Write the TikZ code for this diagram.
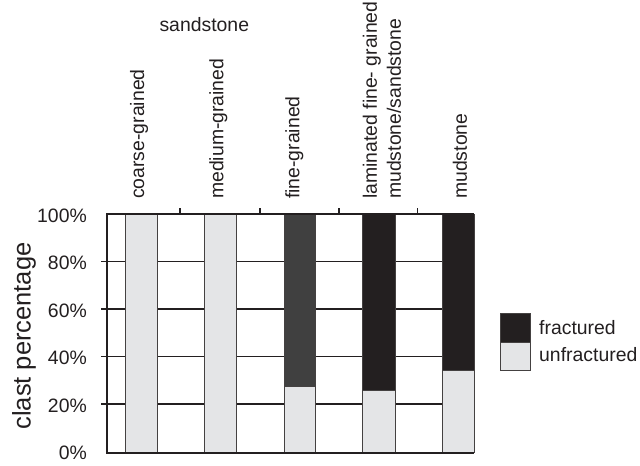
\documentclass[tikz,border=0pt]{standalone}
\usepackage{fontspec}
\setmainfont{Liberation Sans}
\definecolor{lightbar}{HTML}{E4E5E7}
\definecolor{darkbar}{HTML}{404040}
\definecolor{blackbar}{HTML}{231F20}
\definecolor{axisc}{HTML}{231F20}
\begin{document}
\begin{tikzpicture}[x=1bp,y=-1bp,
  lbl/.style={font=\fontsize{19.4bp}{24bp}\selectfont, text=axisc, inner sep=0pt},
  collbl/.style={lbl, rotate=90, anchor=west, align=left},
  ticklbl/.style={lbl, anchor=east},
  grid/.style={line width=1.2bp, draw=axisc},
  frame/.style={line width=1.6bp, draw=axisc},
  barbox/.style={line width=0.9bp, draw=axisc!85}]
\useasboundingbox (0,0) rectangle (640,466);
% grid lines with left ticks
\foreach \yy in {261.7,309,356.7,404}
  \draw[grid] (101,\yy) -- (474,\yy);
% bars: unfractured (light) and fractured parts
\draw[barbox, fill=lightbar] (125.7,214.3) rectangle (157.7,452.7);
\draw[barbox, fill=lightbar] (204.3,214.3) rectangle (236.7,452.7);
\draw[barbox, fill=darkbar] (284,214.3) rectangle (315.7,386.7);
\draw[barbox, fill=lightbar] (284,386.7) rectangle (315.7,452.7);
\draw[barbox, fill=blackbar] (362.3,214.3) rectangle (395.7,390.7);
\draw[barbox, fill=lightbar] (362.3,390.7) rectangle (395.7,452.7);
\draw[barbox, fill=blackbar] (442.3,214.3) rectangle (474,370.3);
\draw[barbox, fill=lightbar] (442.3,370.3) rectangle (474,452.7);
% frame
\draw[frame] (474,214.3) -- (106.7,214.3) -- (106.7,452.7) -- (474,452.7);
% top ticks
\foreach \xx in {180,260,339,417.3}
  \draw[grid] (\xx,214.3) -- (\xx,208);
% y tick labels
\node[ticklbl] (t100) at (87,216) {100\%};
\node[ticklbl] (t80) at (87,263) {80\%};
\node[ticklbl] (t60) at (87,310.5) {60\%};
\node[ticklbl] (t40) at (87,358) {40\%};
\node[ticklbl] (t20) at (87,405.5) {20\%};
\node[ticklbl] (t0) at (87,453) {0\%};
% axis title
\node[lbl, rotate=90, font=\fontsize{25.5bp}{30bp}\selectfont] (ytitle) at (24,336) {clast percentage};
% column labels
\node[lbl] (sand) at (204.3,25) {sandstone};
\node[collbl] (c1) at (139,199) {coarse-grained};
\node[collbl] (c2) at (218.3,199) {medium-grained};
\node[collbl] (c3) at (294.3,199) {fine-grained};
\node[collbl] (c4) at (382,199) {laminated fine- grained\\mudstone/sandstone};
\node[collbl] (c5) at (460,199) {mudstone};
% legend
\draw[barbox, fill=blackbar] (500,313.3) rectangle (530,342.7);
\draw[barbox, fill=lightbar] (500,342.7) rectangle (530,370);
\node[lbl, anchor=west] (lf) at (539,328) {fractured};
\node[lbl, anchor=west] (lu) at (539,355) {unfractured};
\end{tikzpicture}
\end{document}
